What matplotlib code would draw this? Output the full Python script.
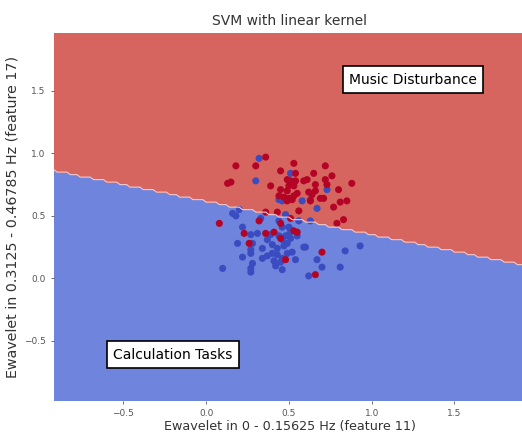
import numpy as np
import matplotlib; matplotlib.use("Agg")
import matplotlib.pyplot as plt

# class 1 = Music Disturbance (red), class 0 = Calculation Tasks (blue)
red_x = [0.36, 0.18, 0.30, 0.53, 0.72, 0.45, 0.54, 0.65, 0.76, 0.13, 0.15, 0.39, 0.49, 0.51,
         0.53, 0.54, 0.59, 0.61, 0.50, 0.53, 0.66, 0.72, 0.73, 0.88, 0.80, 0.45, 0.49, 0.55,
         0.62, 0.64, 0.66, 0.44, 0.47, 0.50, 0.52, 0.53, 0.49, 0.63, 0.69, 0.71, 0.81, 0.85,
         0.77, 0.56, 0.36, 0.43, 0.51, 0.32, 0.45, 0.83, 0.79, 0.08, 0.23, 0.36, 0.41, 0.53,
         0.55, 0.45, 0.26, 0.70, 0.48, 0.66]
red_y = [0.97, 0.90, 0.90, 0.92, 0.90, 0.86, 0.84, 0.84, 0.82, 0.76, 0.77, 0.74, 0.79, 0.78,
         0.77, 0.78, 0.78, 0.79, 0.74, 0.74, 0.75, 0.79, 0.75, 0.76, 0.71, 0.71, 0.70, 0.68,
         0.69, 0.67, 0.70, 0.66, 0.65, 0.64, 0.63, 0.66, 0.62, 0.62, 0.64, 0.64, 0.61, 0.62,
         0.57, 0.54, 0.53, 0.53, 0.48, 0.46, 0.44, 0.47, 0.44, 0.44, 0.36, 0.36, 0.37, 0.38,
         0.37, 0.32, 0.28, 0.21, 0.15, 0.03]
blue_x = [0.32, 0.51, 0.30, 0.73, 0.44, 0.46, 0.58, 0.63, 0.67, 0.20, 0.16, 0.18, 0.33, 0.48,
          0.56, 0.63, 0.44, 0.22, 0.50, 0.46, 0.51, 0.27, 0.31, 0.39, 0.44, 0.48, 0.50, 0.55,
          0.28, 0.19, 0.37, 0.46, 0.51, 0.40, 0.27, 0.34, 0.43, 0.47, 0.49, 0.52, 0.59, 0.60,
          0.84, 0.93, 0.22, 0.34, 0.37, 0.40, 0.43, 0.46, 0.49, 0.41, 0.45, 0.54, 0.67, 0.28,
          0.42, 0.10, 0.27, 0.27, 0.46, 0.70, 0.81, 0.62, 0.27]
blue_y = [0.96, 0.84, 0.78, 0.71, 0.63, 0.62, 0.62, 0.63, 0.56, 0.55, 0.52, 0.50, 0.48, 0.51,
          0.46, 0.46, 0.46, 0.41, 0.41, 0.41, 0.39, 0.35, 0.36, 0.35, 0.34, 0.34, 0.35, 0.34,
          0.28, 0.28, 0.31, 0.31, 0.32, 0.27, 0.23, 0.24, 0.24, 0.26, 0.28, 0.21, 0.25, 0.25,
          0.22, 0.26, 0.17, 0.16, 0.18, 0.20, 0.19, 0.16, 0.20, 0.14, 0.13, 0.15, 0.15, 0.12,
          0.10, 0.08, 0.08, 0.05, 0.07, 0.09, 0.09, 0.02, 0.20]

# linear decision function  w . (x, y) + b 
w = [0.267, 1.0]
b = -0.617

X = np.array(red_x + blue_x)
Y = np.array(red_y + blue_y)
x_min, x_max = X.min() - 1, X.max() + 1
y_min, y_max = Y.min() - 1, Y.max() + 1
h = 0.02
xx, yy = np.meshgrid(np.arange(x_min, x_max, h), np.arange(y_min, y_max, h))
Z = (w[0] * xx + w[1] * yy + b > 0).astype(int)

fig = plt.figure(figsize=(5.22, 4.33), dpi=100)
ax = fig.add_axes([0.103, 0.074, 0.904, 0.852])
ax.contourf(xx, yy, Z, levels=[-0.5, 0.5, 1.5], colors=["#6f84dc", "#d6655f"])
ax.contour(xx, yy, Z, levels=[0.5], colors="#eccbd2", linewidths=0.8)
ax.scatter(blue_x, blue_y, s=26, c="#3b4cc0", edgecolors="none")
ax.scatter(red_x, red_y, s=26, c="#b40426", edgecolors="none")
ax.set_xlim(x_min, x_max)
ax.set_ylim(y_min, y_max)
ax.set_xticks([-0.5, 0.0, 0.5, 1.0, 1.5])
ax.set_yticks([-0.5, 0.0, 0.5, 1.0, 1.5])
ax.tick_params(labelsize=6.5, colors="#555555", length=2.5, width=0.6)
for s in ax.spines.values():
    s.set_visible(False)
ax.set_xlabel("Ewavelet in 0 - 0.15625 Hz (feature 11)", fontsize=9.2, color="#333333", labelpad=1)
ax.set_ylabel("Ewavelet in 0.3125 - 0.46785 Hz (feature 17)", fontsize=10.3, color="#333333", labelpad=3)
ax.set_title("SVM with linear kernel", fontsize=10, color="#333333", pad=5)

box = dict(boxstyle="square,pad=0.45", facecolor="white", edgecolor="black", linewidth=1.2)
ax.text(1.25, 1.59, "Music Disturbance", fontsize=10, ha="center", va="center", bbox=box)
ax.text(-0.20, -0.61, "Calculation Tasks", fontsize=10, ha="center", va="center", bbox=box)

fig.savefig("out.png", dpi=100)
